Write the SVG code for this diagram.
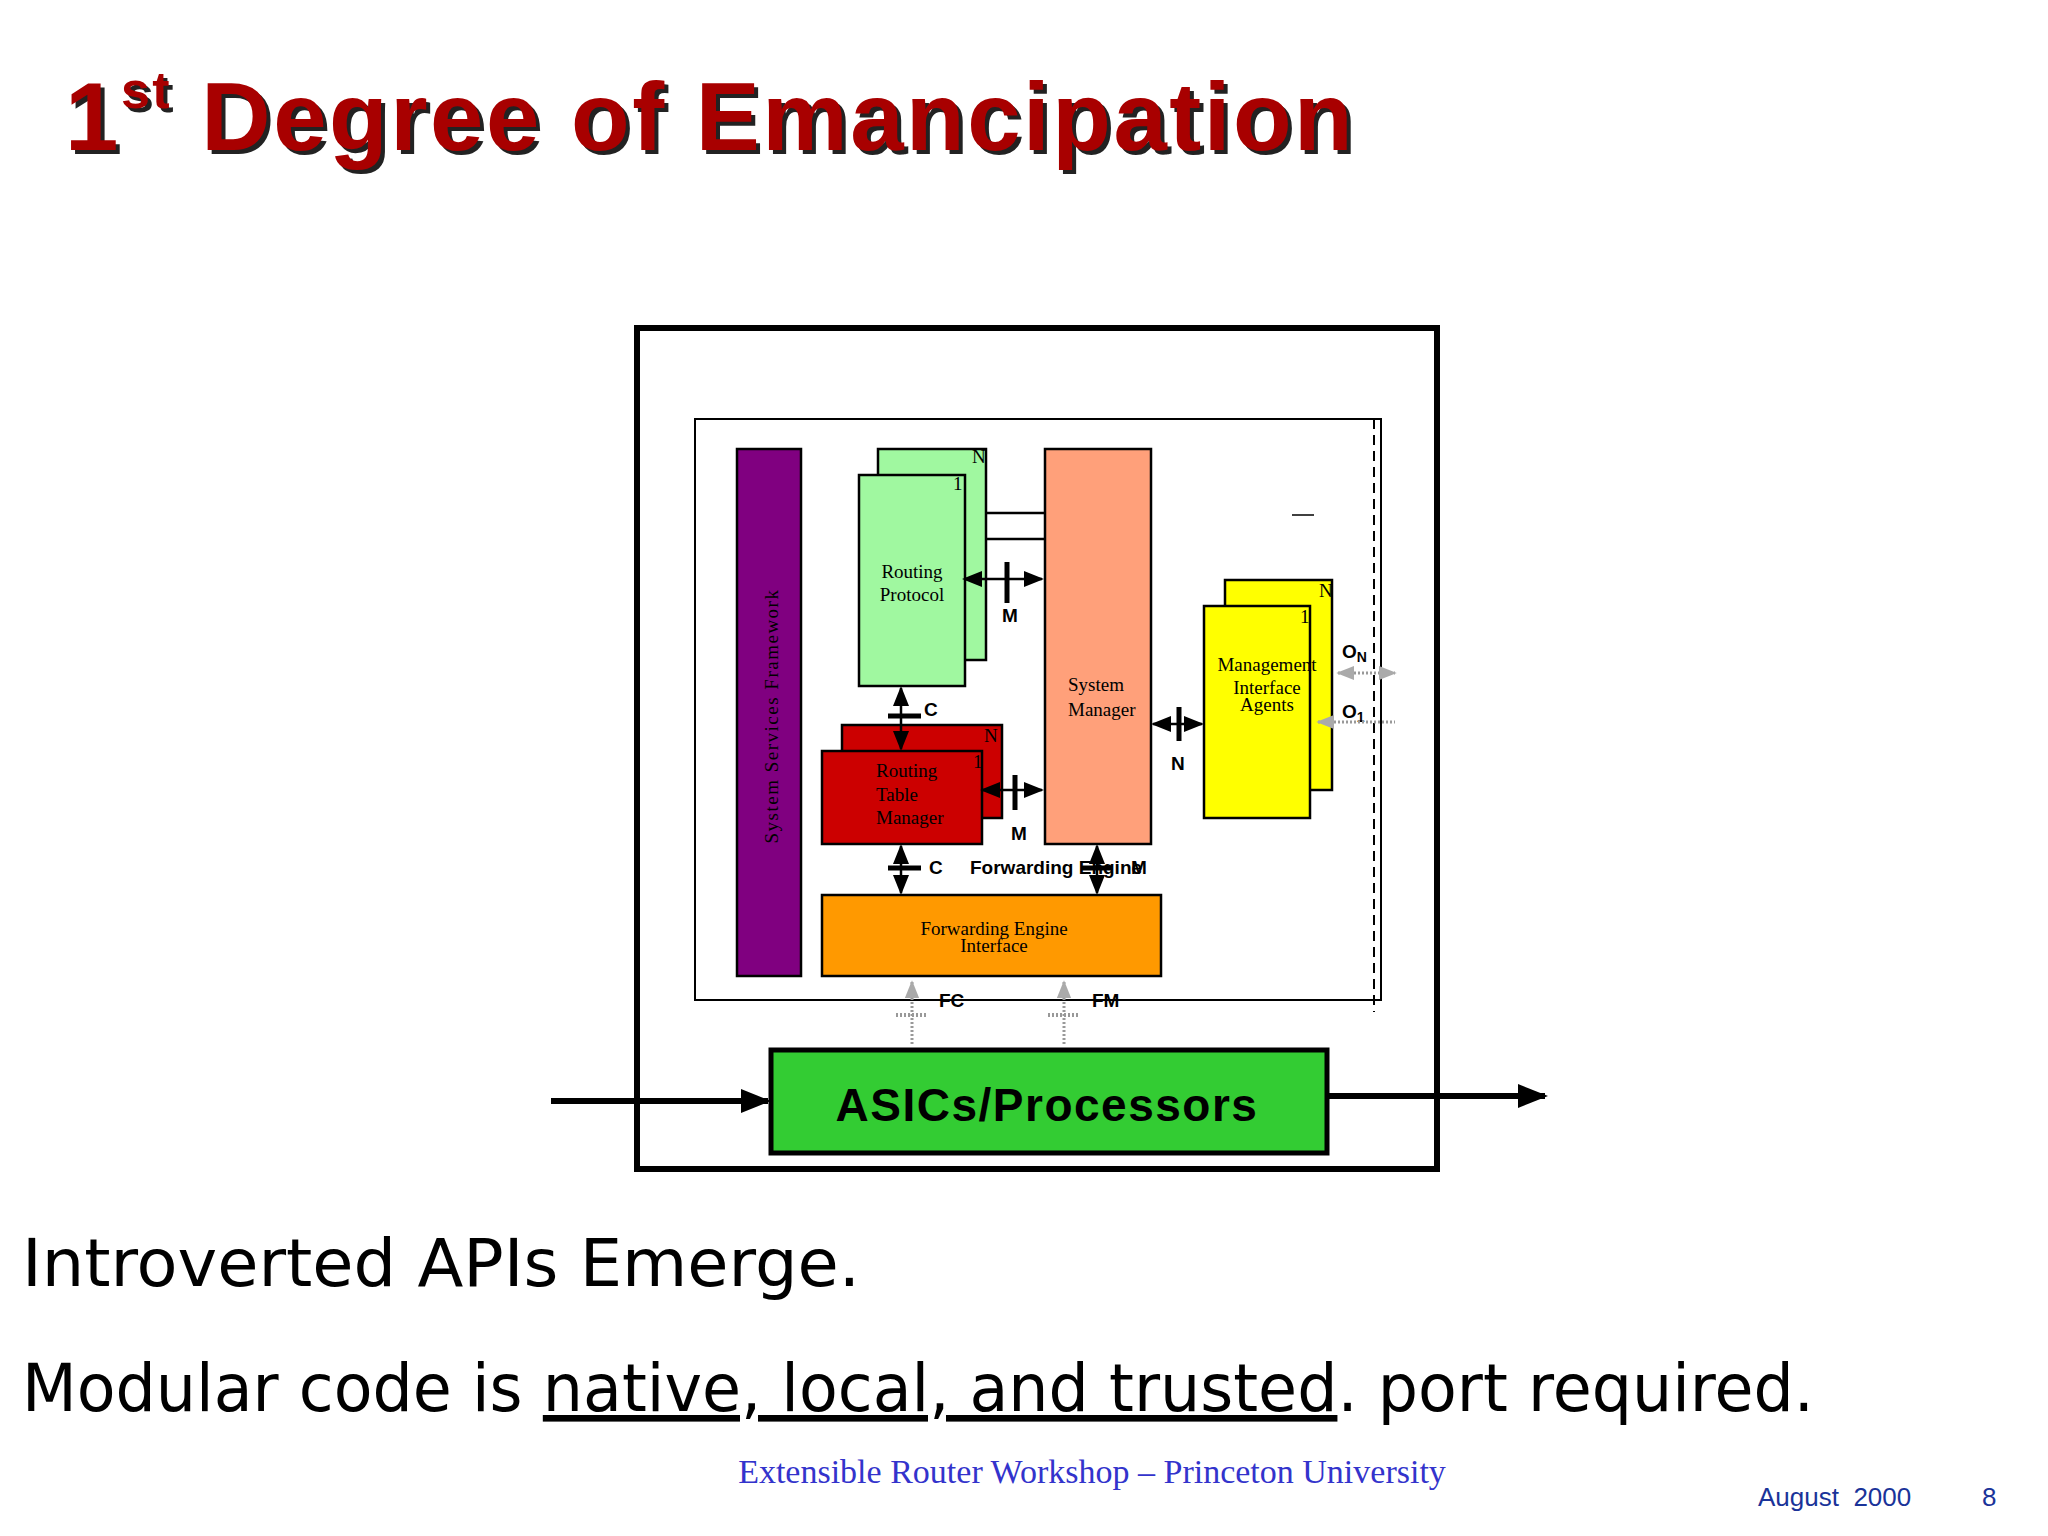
<svg xmlns="http://www.w3.org/2000/svg" width="2048" height="1536" viewBox="0 0 2048 1536">
<defs>
<style>
.box{stroke:#000;stroke-width:2.5}
.ser{font-family:"Liberation Serif",serif;font-size:19px;fill:#000}
.sans{font-family:"Liberation Sans",Arial,sans-serif;font-weight:bold;font-size:19px;fill:#000}
.ln{stroke:#000;stroke-width:2.5;fill:none}
.bar{stroke:#000;stroke-width:5}
.dot{stroke:#999;stroke-width:3;stroke-dasharray:2 2;fill:none}
.big{font-family:"DejaVu Sans",sans-serif;font-size:66px;fill:#000}
</style>
<marker id="ah" viewBox="0 0 10 10" refX="9" refY="5" markerWidth="8" markerHeight="8" orient="auto-start-reverse"><path d="M0,1 L10,5 L0,9 Z" fill="#000"/></marker>
<marker id="big" viewBox="0 0 10 10" refX="9" refY="5" markerWidth="5" markerHeight="5" orient="auto"><path d="M0,1 L10,5 L0,9 Z" fill="#000"/></marker>
<marker id="gh" viewBox="0 0 10 10" refX="9" refY="5" markerWidth="6" markerHeight="6" orient="auto-start-reverse"><path d="M0,1 L10,5 L0,9 Z" fill="#aaa"/></marker>
</defs>
<rect width="2048" height="1536" fill="#fff"/>
<g id="title" font-family="Liberation Sans,Arial,sans-serif" font-weight="bold" letter-spacing="2.5">
<text x="69" y="154" font-size="96" fill="#222">1<tspan font-size="52" dy="-42">st</tspan><tspan dy="42"> Degree of Emancipation</tspan></text>
<text x="65" y="150" font-size="96" fill="#a80000">1<tspan font-size="52" dy="-42">st</tspan><tspan dy="42"> Degree of Emancipation</tspan></text>
</g>
<g id="frame"><rect x="637" y="328" width="800" height="841" fill="none" stroke="#000" stroke-width="6"/></g>
<g id="inner"><rect x="695" y="419" width="686" height="581" fill="#fff" stroke="#000" stroke-width="2"/>
<line x1="1374" y1="419" x2="1374" y2="1012" stroke="#000" stroke-width="2" stroke-dasharray="10 6"/></g>
<g id="ssf"><rect class="box" x="737" y="449" width="64" height="527" fill="#800080"/>
<text class="ser" transform="translate(778,716) rotate(-90)" text-anchor="middle" font-size="21" letter-spacing="1.5" fill="#333">System Services Framework</text></g>
<g id="rp"><rect class="box" x="878" y="449" width="108" height="211" fill="#a0f8a0"/>
<text class="ser" x="972" y="463" fill="#333">N</text>
<rect class="box" x="859" y="475" width="106" height="211" fill="#a0f8a0"/>
<text class="ser" x="953" y="490" fill="#333">1</text>
<text class="ser" x="912" y="578" text-anchor="middle">Routing</text><text class="ser" x="912" y="601" text-anchor="middle">Protocol</text></g>
<g id="sm"><rect class="box" x="1045" y="449" width="106" height="395" fill="#ffa07a"/>
<text class="ser" x="1068" y="691">System</text><text class="ser" x="1068" y="716">Manager</text></g>
<g id="rtm"><rect class="box" x="842" y="725" width="160" height="93" fill="#cc0000"/>
<text class="ser" x="984" y="742">N</text>
<rect class="box" x="822" y="751" width="160" height="93" fill="#cc0000"/>
<text class="ser" x="973" y="768">1</text>
<text class="ser" x="876" y="777" fill="#222">Routing</text><text class="ser" x="876" y="801" fill="#222">Table</text><text class="ser" x="876" y="824" fill="#222">Manager</text></g>
<g id="mia"><rect class="box" x="1225" y="580" width="107" height="210" fill="#ffff00"/>
<text class="ser" x="1319" y="597" fill="#333">N</text>
<rect class="box" x="1204" y="606" width="106" height="212" fill="#ffff00"/>
<text class="ser" x="1300" y="623" fill="#333">1</text>
<text class="ser" x="1267" y="671" text-anchor="middle">Management</text><text class="ser" x="1267" y="694" text-anchor="middle">Interface</text><text class="ser" x="1267" y="711" text-anchor="middle">Agents</text></g>
<g id="fei"><rect class="box" x="822" y="895" width="339" height="81" fill="#ff9900"/>
<text class="ser" x="994" y="935" text-anchor="middle">Forwarding Engine</text><text class="ser" x="994" y="952" text-anchor="middle">Interface</text></g>
<g id="asic"><rect x="771" y="1050" width="556" height="103" fill="#33cc33" stroke="#000" stroke-width="5"/>
<text x="1047" y="1121" text-anchor="middle" font-family="Liberation Sans,Arial,sans-serif" font-weight="bold" font-size="46" letter-spacing="1.5" fill="#000">ASICs/Processors</text></g>
<g id="connectors">
<line class="ln" x1="986" y1="513" x2="1045" y2="513"/><line class="ln" x1="986" y1="539" x2="1045" y2="539"/>
<line class="ln" x1="964" y1="579" x2="1042" y2="579" marker-start="url(#ah)" marker-end="url(#ah)"/>
<line class="bar" x1="1007" y1="562" x2="1007" y2="603"/><text class="sans" x="1002" y="622">M</text>
<line class="ln" x1="901" y1="688" x2="901" y2="749" marker-start="url(#ah)" marker-end="url(#ah)"/>
<line class="bar" x1="888" y1="716" x2="921" y2="716"/><text class="sans" x="924" y="716">C</text>
<line class="ln" x1="982" y1="790" x2="1042" y2="790" marker-start="url(#ah)" marker-end="url(#ah)"/>
<line class="bar" x1="1015" y1="775" x2="1015" y2="810"/><text class="sans" x="1011" y="840">M</text>
<line class="ln" x1="901" y1="846" x2="901" y2="893" marker-start="url(#ah)" marker-end="url(#ah)"/>
<line class="bar" x1="888" y1="868" x2="921" y2="868"/><text class="sans" x="929" y="874">C</text>
<line class="ln" x1="1097" y1="846" x2="1097" y2="893" marker-start="url(#ah)" marker-end="url(#ah)"/>
<line class="bar" x1="1082" y1="868" x2="1112" y2="868"/>
<text class="sans" x="970" y="874">Forwarding Engine</text><text class="sans" x="1131" y="874">M</text>
<line class="ln" x1="1153" y1="724" x2="1202" y2="724" marker-start="url(#ah)" marker-end="url(#ah)"/>
<line class="bar" x1="1179" y1="707" x2="1179" y2="741"/><text class="sans" x="1171" y="770">N</text>
<line x1="1292" y1="515" x2="1314" y2="515" stroke="#000" stroke-width="1.5"/>
<text class="sans" x="1342" y="658">O<tspan font-size="14" dy="4">N</tspan></text>
<text class="sans" x="1342" y="718">O<tspan font-size="14" dy="4">1</tspan></text>
<line class="dot" x1="1338" y1="673" x2="1395" y2="673" marker-start="url(#gh)" marker-end="url(#gh)"/>
<line class="dot" x1="1318" y1="722" x2="1395" y2="722" marker-start="url(#gh)"/>
<line class="dot" x1="912" y1="982" x2="912" y2="1045" marker-start="url(#gh)"/>
<line class="dot" x1="1064" y1="982" x2="1064" y2="1045" marker-start="url(#gh)"/>
<line x1="896" y1="1015" x2="928" y2="1015" stroke="#999" stroke-width="4" stroke-dasharray="2 2"/>
<line x1="1048" y1="1015" x2="1080" y2="1015" stroke="#999" stroke-width="4" stroke-dasharray="2 2"/>
<text class="sans" x="939" y="1007">FC</text><text class="sans" x="1092" y="1007">FM</text>
<line x1="551" y1="1101" x2="768" y2="1101" stroke="#000" stroke-width="6" marker-end="url(#big)"/>
<line x1="1327" y1="1096" x2="1545" y2="1096" stroke="#000" stroke-width="6" marker-end="url(#big)"/>
</g>
<g id="text">
<text class="big" x="22" y="1286" textLength="838" lengthAdjust="spacingAndGlyphs">Introverted APIs Emerge.</text>
<text class="big" x="22" y="1411" textLength="1792" lengthAdjust="spacingAndGlyphs">Modular code is <tspan text-decoration="underline">native, local, and trusted</tspan>. port required.</text>
<text x="1092" y="1483" text-anchor="middle" font-family="Liberation Serif,serif" font-size="34" fill="#3333cc">Extensible Router Workshop – Princeton University</text>
<text x="1758" y="1506" font-family="Liberation Sans,Arial,sans-serif" font-size="26" fill="#1a3399" xml:space="preserve">August  2000</text>
<text x="1982" y="1506" font-family="Liberation Sans,Arial,sans-serif" font-size="26" fill="#1a3399">8</text>
</g>
</svg>
